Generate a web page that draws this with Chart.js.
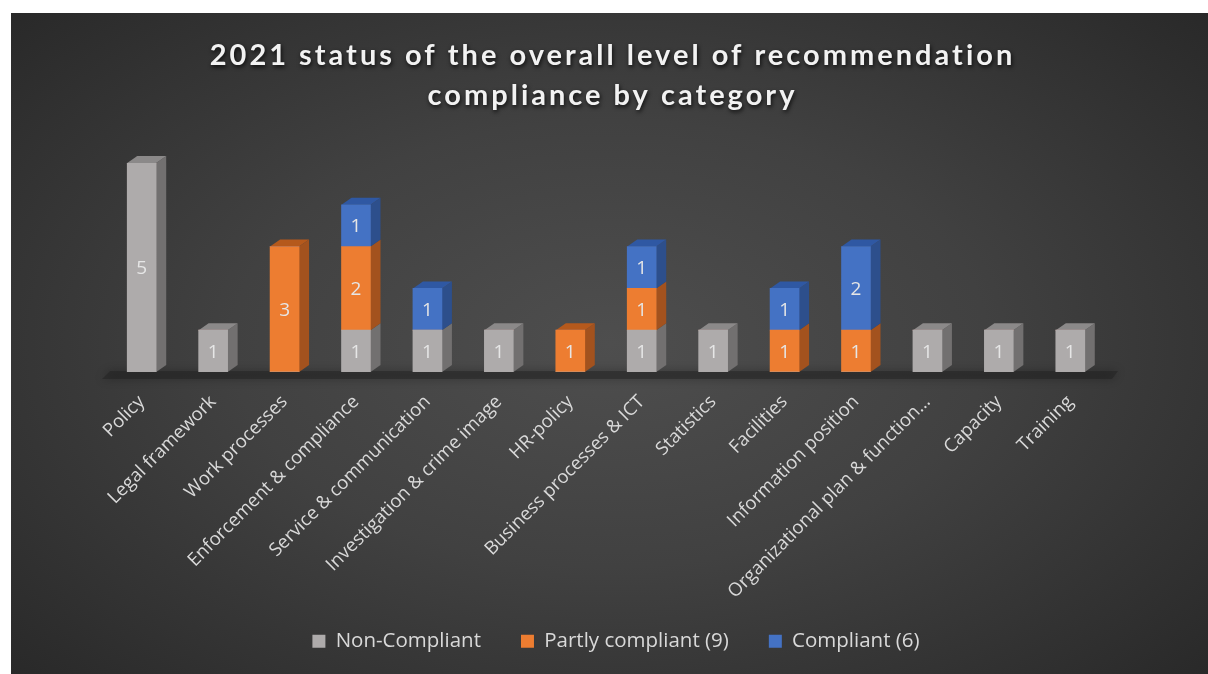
<!DOCTYPE html>
<html>
<head>
<meta charset="utf-8">
<script src="https://cdn.jsdelivr.net/npm/chart.js@4/dist/chart.umd.min.js"></script>
<style>
  html, body { margin: 0; padding: 0; background: #fff; }
  #wrap {
    position: absolute; left: 11px; top: 13px; width: 1197px; height: 661px;
    background: radial-gradient(ellipse 70% 75% at 50% 50%, #4e4e4e 0%, #414141 45%, #282828 100%);
  }
  canvas { display: block; }
</style>
</head>
<body>
<div id="wrap"><canvas id="chart" width="1197" height="661"></canvas></div>
<script>
// data
const categories = [
  'Policy', 'Legal framework', 'Work processes', 'Enforcement & compliance',
  'Service & communication', 'Investigation & crime image', 'HR-policy',
  'Business processes & ICT', 'Statistics', 'Facilities', 'Information position',
  'Organizational plan & function\u2026', 'Capacity', 'Training'
];
const nonCompliant    = [5, 1, 0, 1, 1, 1, 0, 1, 1, 0, 0, 1, 1, 1];
const partlyCompliant = [0, 0, 3, 2, 0, 0, 1, 1, 0, 1, 1, 0, 0, 0];
const compliant       = [0, 0, 0, 1, 1, 0, 0, 1, 0, 1, 2, 0, 0, 0];
const seriesNames = ['Non-Compliant', 'Partly compliant (9)', 'Compliant (6)'];
const titleLines = ['2021 status of the overall level of recommendation', 'compliance by category'];

// colours: front, top, side
const faces = [
  ['#aeabab', '#8b8989', '#727070'],
  ['#ed7d31', '#b5591c', '#a3521e'],
  ['#4472c4', '#2f58a3', '#2d4f8c']
];
const DX = 10, DY = 7;

// 3D side/top faces + floor shadow, drawn under the front faces
const depthPlugin = {
  id: 'depth',
  afterLayout(chart) {
    // let the long rotated labels run past the axis box instead of being clipped
    chart.scales.x.bottom = chart.height;
    chart.legend.left += 10;
    chart.legend.right += 10;
  },
  beforeDatasetsDraw(chart) {
    const ctx = chart.ctx, area = chart.chartArea;
    ctx.save();
    ctx.shadowColor = 'rgba(0,0,0,0.6)';
    ctx.shadowBlur = 10;
    ctx.fillStyle = 'rgba(30,30,30,0.45)';
    ctx.beginPath();
    ctx.moveTo(area.left - 4, area.bottom + 7);
    ctx.lineTo(area.right + 6, area.bottom + 7);
    ctx.lineTo(area.right + 12, area.bottom - 1);
    ctx.lineTo(area.left + 4, area.bottom - 1);
    ctx.closePath();
    ctx.fill();
    ctx.restore();

    const metas = chart.data.datasets.map((d, i) => chart.getDatasetMeta(i));
    ctx.save();
    metas.forEach((meta, di) => {
      meta.data.forEach((bar, i) => {
        const v = chart.data.datasets[di].data[i];
        if (!v) return;
        const p = bar.getProps(['x', 'y', 'base', 'width'], true);
        const l = p.x - p.width / 2, r = p.x + p.width / 2;
        // side
        ctx.fillStyle = faces[di][2];
        ctx.beginPath();
        ctx.moveTo(r, p.y);
        ctx.lineTo(r + DX, p.y - DY);
        ctx.lineTo(r + DX, p.base - DY);
        ctx.lineTo(r, p.base);
        ctx.closePath();
        ctx.fill();
        // top only on the highest segment
        let top = true;
        for (let k = di + 1; k < metas.length; k++) {
          if (chart.data.datasets[k].data[i]) top = false;
        }
        if (top) {
          ctx.fillStyle = faces[di][1];
          ctx.beginPath();
          ctx.moveTo(l, p.y);
          ctx.lineTo(l + DX, p.y - DY);
          ctx.lineTo(r + DX, p.y - DY);
          ctx.lineTo(r, p.y);
          ctx.closePath();
          ctx.fill();
        }
      });
    });
    ctx.restore();
  },
  afterDatasetsDraw(chart) {
    const ctx = chart.ctx;
    ctx.save();
    ctx.font = '19px "Open Sans"';
    ctx.fillStyle = '#e6e6e6';
    ctx.textAlign = 'center';
    ctx.textBaseline = 'middle';
    chart.data.datasets.forEach((ds, di) => {
      chart.getDatasetMeta(di).data.forEach((bar, i) => {
        const v = ds.data[i];
        if (!v) return;
        const p = bar.getProps(['x', 'y', 'base'], true);
        ctx.fillText(String(v), p.x, (p.y + p.base) / 2 + 1);
      });
    });
    ctx.restore();
  },
  afterDraw(chart) {
    const ctx = chart.ctx;
    ctx.save();
    ctx.font = 'bold 29px Lato';
    ctx.letterSpacing = '3px';
    ctx.fillStyle = '#f2f2f2';
    ctx.textAlign = 'center';
    ctx.textBaseline = 'middle';
    ctx.shadowColor = 'rgba(0,0,0,0.8)';
    ctx.shadowBlur = 4;
    ctx.shadowOffsetX = 1;
    ctx.shadowOffsetY = 2;
    titleLines.forEach((t, i) => ctx.fillText(t, chart.width / 2 + 3, 43 + i * 40));
    ctx.restore();
  }
};

new Chart(document.getElementById('chart'), {
  type: 'bar',
  data: {
    labels: categories,
    datasets: [
      { label: seriesNames[0], data: nonCompliant, backgroundColor: faces[0][0] },
      { label: seriesNames[1], data: partlyCompliant, backgroundColor: faces[1][0] },
      { label: seriesNames[2], data: compliant, backgroundColor: faces[2][0] }
    ]
  },
  options: {
    responsive: false,
    animation: false,
    barThickness: 29,
    layout: { padding: { left: 95, right: 102, top: 150, bottom: 22 } },
    plugins: {
      title: { display: false },
      tooltip: { enabled: false },
      legend: {
        position: 'bottom',
        maxHeight: 61,
        labels: {
          color: '#d9d9d9',
          font: { family: '"Open Sans"', size: 20.5 },
          boxWidth: 13,
          boxHeight: 13,
          padding: 40
        }
      }
    },
    scales: {
      x: {
        stacked: true,
        grid: { display: false, drawTicks: false },
        border: { display: false },
        ticks: {
          color: '#d9d9d9',
          font: { family: '"Open Sans"', size: 18.5 },
          minRotation: 45,
          maxRotation: 45,
          autoSkip: false,
          padding: 19
        },
        afterFit(scale) { scale.height = 219; }
      },
      y: {
        stacked: true,
        display: false,
        min: 0,
        max: 5
      }
    }
  },
  plugins: [depthPlugin]
});
</script>
</body>
</html>
